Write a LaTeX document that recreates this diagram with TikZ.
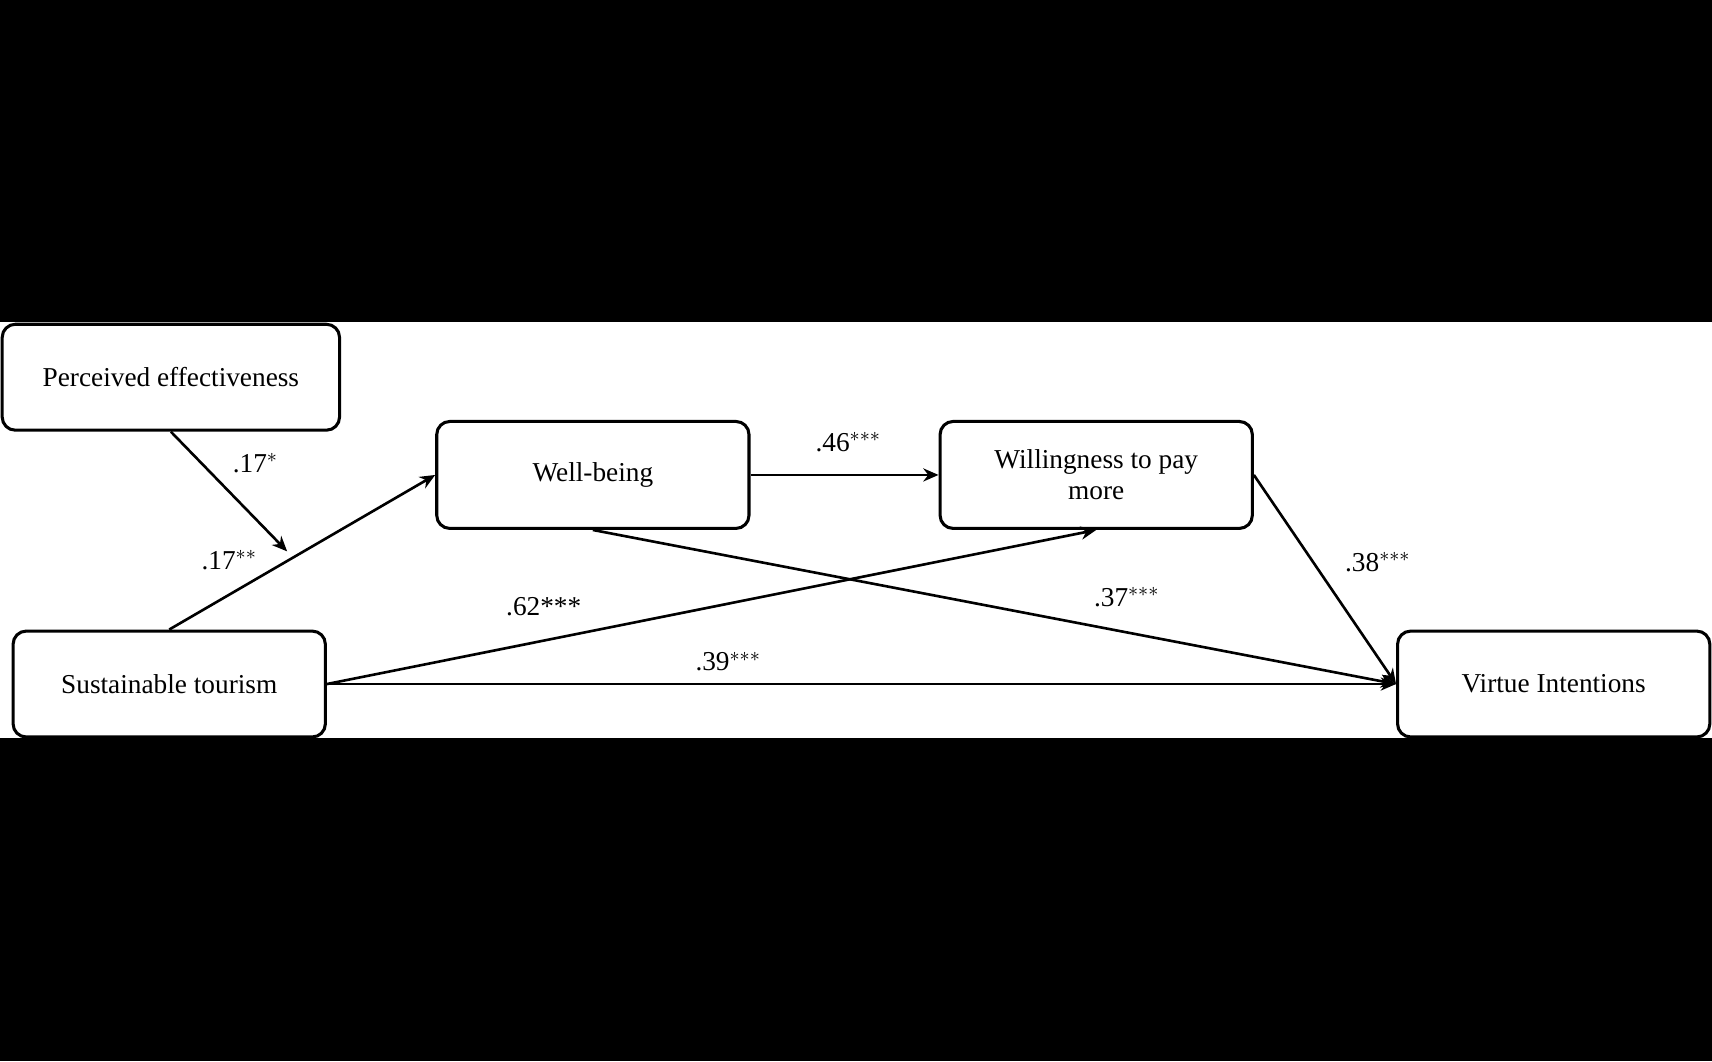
\documentclass[tikz,border=0pt]{standalone}
\usepackage{fontspec}
\setmainfont{Liberation Serif}
\usetikzlibrary{arrows.meta}
\begin{document}
\begin{tikzpicture}[x=0.5pt,y=-0.5pt,
 box/.style={draw,line width=1.4pt,rounded corners=6pt,align=center,font=\fontsize{12.5}{14}\selectfont,inner sep=0pt},
 arr/.style={line width=1.2pt,-{Stealth[length=7pt,width=6pt]}},
 lab/.style={font=\fontsize{12.5}{14}\selectfont,inner sep=1pt}]
\fill[black] (0,0) rectangle (1568,972);
\fill[white] (0,295) rectangle (1568,676);
\useasboundingbox (0,0) rectangle (1568,972);
\node[box,minimum width=154.5pt,minimum height=48.5pt] (pe) at (156.5,345.5) {Perceived effectiveness};
\node[box,minimum width=143pt,minimum height=49pt] (wb) at (543,435) {Well-being};
\node[box,minimum width=143pt,minimum height=49pt] (wp) at (1004,435) {Willingness to pay\\more};
\node[box,minimum width=143pt,minimum height=48.5pt] (st) at (155,626.5) {Sustainable tourism};
\node[box,minimum width=143pt,minimum height=48.5pt] (vi) at (1423,626.5) {Virtue Intentions};
\coordinate (m) at (263,505);
\draw[arr] (pe.south) -- (m);
\draw[arr] (st.north) -- (wb.west);
\draw[arr] (wb.east) -- (wp.west);
\draw[arr] (st.east) -- (wp.south);
\draw[arr] (wb.south) -- (vi.west);
\draw[arr] (wp.east) -- (vi.west);
\draw[arr] (st.east) -- (vi.west);
\node[lab] at (234,424) {.17$^{*}$};
\node[lab] at (210,513) {.17$^{**}$};
\node[lab] at (777,405) {.46$^{***}$};
\node[lab] at (498,556) {.62***};
\node[lab] at (1032,547) {.37$^{***}$};
\node[lab] at (1262,515) {.38$^{***}$};
\node[lab] at (667,606) {.39$^{***}$};
\end{tikzpicture}
\end{document}
